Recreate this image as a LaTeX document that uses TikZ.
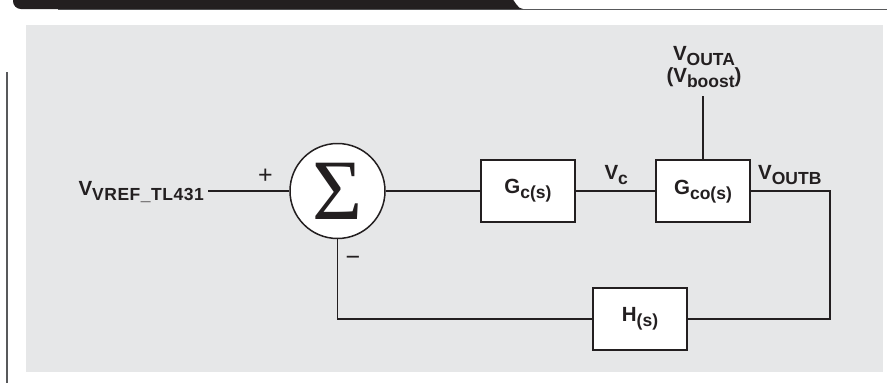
\documentclass[tikz,border=0pt]{standalone}
\usepackage{fontspec}
\setmainfont{Liberation Sans}
\newfontfamily\sigmafont{Liberation Serif}
\definecolor{ink}{HTML}{231F20}
\definecolor{panel}{HTML}{E6E7E8}
\definecolor{rulegrey}{HTML}{58595B}
\newcommand{\sbs}[1]{\raisebox{-5pt}{\fontsize{17.5}{17.5}\selectfont #1}}
\newcommand{\sbsw}[1]{\raisebox{-5pt}{\fontsize{17.5}{17.5}\selectfont\addfontfeatures{LetterSpace=3}#1}}
\begin{document}
\begin{tikzpicture}[x=1pt,y=-1pt,
  txt/.style={font=\fontsize{20.5}{22}\selectfont\bfseries, text=ink, inner sep=0pt},
  sgn/.style={font=\fontsize{25}{26}\selectfont, text=ink, inner sep=0pt},
  blk/.style={draw=ink, line width=1.7pt, fill=white, minimum width=94.5pt, minimum height=62.5pt, inner sep=0pt},
  sumnode/.style={circle, draw=ink, line width=1.5pt, fill=white, minimum size=95pt, inner sep=0pt},
  wire/.style={draw=ink, line width=1.2pt}]
\useasboundingbox (0,0) rectangle (887,383);
% header
\draw[rulegrey, line width=1.3pt] (58,9.4) -- (887,9.4);
\fill[ink] (13,-2) -- (13,1) .. controls (13,5.5) and (16.5,9) .. (21,9) -- (523,9) .. controls (517,9) and (515,0) .. (511,-2) -- cycle;
% left rule
\draw[rulegrey, line width=2pt] (7,72) -- (7,383);
% panel
\fill[panel] (26,25) rectangle (883,372);
% blocks
\node[sumnode] (sum) at (337.5,191) {};
\node[font=\sigmafont\fontsize{86}{86}\selectfont, text=ink, inner sep=0pt] (sig) at (337.5,191.5) {Σ};
\node[blk] (gc) at (528,191) {};
\node[txt, anchor=base] (gct) at (528,193.5) {G\sbs{c(s)}};
\node[blk] (gco) at (703,191) {};
\node[txt, anchor=base] (gcot) at (703,194) {G\sbs{co(s)}};
\node[blk] (h) at (640,319) {};
\node[txt, anchor=base] (ht) at (640,321.7) {H\sbs{(s)}};
% labels
\node[txt, anchor=base west, inner xsep=4pt] (vref) at (74.3,195) {V\sbsw{VREF\_TL431}};
\node[txt, anchor=base west] (vc) at (604.3,179.3) {V\sbs{c}};
\node[txt, anchor=base west] (voutb) at (758,179.3) {V\sbs{OUTB}};
\node[txt, anchor=base, align=center] (vouta) at (704,82) {V\sbs{OUTA}\\(V\sbs{boost})};
\node[sgn, anchor=base] (plus) at (265.3,183.5) {+};
\node[sgn, anchor=base] (minus) at (353,265.5) {−};
% connectors
\coordinate (ta) at (703,96);
\coordinate (fb) at (830,319);
\draw[wire] (vref.east |- sum.west) -- (sum.west);
\draw[wire] (sum.east) -- (gc.west);
\draw[wire] (gc.east) -- (gco.west);
\draw[wire] (gco.north) -- (ta);
\draw[wire] (gco.east) -| (fb) -- (h.east);
\draw[wire] (h.west) -| (sum.south);
\end{tikzpicture}
\end{document}
